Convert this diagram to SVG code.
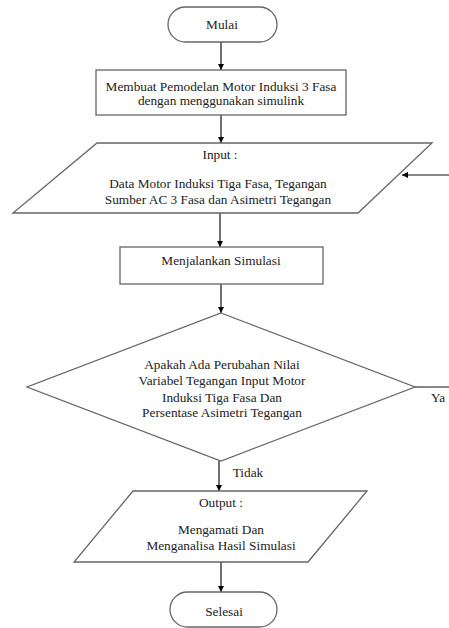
<svg xmlns="http://www.w3.org/2000/svg" width="449" height="628" viewBox="0 0 449 628">
<defs>
<marker id="ah" viewBox="0 0 10 10" refX="10" refY="5" markerWidth="6" markerHeight="6" orient="auto" markerUnits="userSpaceOnUse">
<path d="M0,0 L10,5 L0,10 z" fill="#000"/>
</marker>
<style>
.s{fill:#fff;stroke:#666;stroke-width:1.3}
.t{font-family:'Liberation Serif','Times New Roman','DejaVu Serif',serif;font-size:13.3px;fill:#222;text-anchor:middle}
.c{stroke:#111;stroke-width:1.2;fill:none}
</style>
</defs>
<rect width="449" height="628" fill="#fff"/>
<g id="connectors">
<line class="c" x1="221" y1="42" x2="221" y2="70" marker-end="url(#ah)"/>
<line class="c" x1="221" y1="115" x2="221" y2="143" marker-end="url(#ah)"/>
<line class="c" x1="449" y1="175" x2="402" y2="175" marker-end="url(#ah)"/>
<line class="c" x1="220" y1="213" x2="220" y2="247" marker-end="url(#ah)"/>
<line class="c" x1="221" y1="284" x2="221" y2="313" marker-end="url(#ah)"/>
<line class="c" x1="415" y1="387" x2="449" y2="387"/>
<line class="c" x1="219" y1="461" x2="219" y2="491" marker-end="url(#ah)"/>
<line class="c" x1="221" y1="562" x2="221" y2="592" marker-end="url(#ah)"/>
<text class="t" x="438" y="402">Ya</text>
<text class="t" x="248" y="477">Tidak</text>
</g>
<g id="mulai">
<rect class="s" x="168" y="7" width="109" height="35" rx="17.5"/>
<text class="t" x="222" y="29">Mulai</text>
</g>
<g id="pemodelan">
<rect class="s" x="96" y="70" width="250" height="45"/>
<text class="t" x="221" y="91">Membuat Pemodelan Motor Induksi 3 Fasa</text>
<text class="t" x="221" y="105">dengan menggunakan simulink</text>
</g>
<g id="input">
<polygon class="s" points="97,143 432,143 358,213 13,213"/>
<text class="t" x="220" y="159">Input :</text>
<text class="t" x="218" y="188">Data Motor Induksi Tiga Fasa, Tegangan</text>
<text class="t" x="218" y="204">Sumber AC 3 Fasa dan Asimetri Tegangan</text>
</g>
<g id="simulasi">
<rect class="s" x="120" y="247" width="203" height="37"/>
<text class="t" x="221" y="265">Menjalankan Simulasi</text>
</g>
<g id="keputusan">
<polygon class="s" points="221,313 415,387 221,461 27,387"/>
<text class="t" x="222" y="369">Apakah Ada Perubahan Nilai</text>
<text class="t" x="222" y="385">Variabel Tegangan Input Motor</text>
<text class="t" x="222" y="402">Induksi Tiga Fasa Dan</text>
<text class="t" x="222" y="417">Persentase Asimetri Tegangan</text>
</g>
<g id="output">
<polygon class="s" points="133,491 367,491 308,562 74,562"/>
<text class="t" x="221" y="507">Output :</text>
<text class="t" x="221" y="534">Mengamati Dan</text>
<text class="t" x="221" y="550">Menganalisa Hasil Simulasi</text>
</g>
<g id="selesai">
<rect class="s" x="170" y="592" width="107" height="35" rx="17.5"/>
<text class="t" x="224" y="616">Selesai</text>
</g>
</svg>
